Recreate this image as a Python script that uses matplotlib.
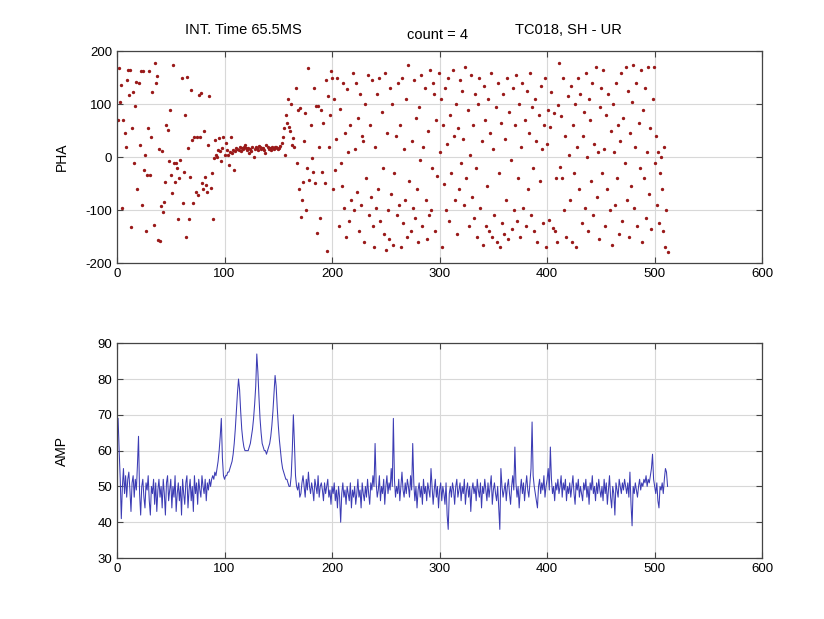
import numpy as np
import matplotlib
matplotlib.use("Agg")
import matplotlib.pyplot as plt

plt.rcParams['font.family'] = ['Liberation Sans', 'DejaVu Sans']
plt.rcParams['axes.unicode_minus'] = False

# phase of each sample (deg)
pha = [
    70, 168, 105, 137, -95, 71, 45, 20, 146, 164,
    118, 165, -131, 55, 124, -11, 96, 143, -60, 140,
    23, 162, -90, 162, -24, 4, -140, -33, 55, 162,
    -33, 39, 124, -128, 178, 140, 153, -156, 15, -159,
    -93, 11, -103, -84, -46, 61, 52, -8, 90, -33,
    -68, 175, -10, -46, -11, -20, -116, -40, -5, 149,
    -87, -27, 80, -150, 152, 17, -116, -37, 127, 33,
    -87, 39, -65, 39, -71, 118, 39, 121, -49, -60,
    49, -37, -52, -65, 23, 115, -58, -30, -116, -2,
    33, 4, 1, 14, 36, 11, -8, 17, 39, 5,
    26, 14, 4, -15, 10, 39, 8, 14, -24, 12,
    17, 15, 14, 20, 12, 17, 15, 20, 23, 17,
    14, 18, 8, 16, 12, 19, 1, 15, 20, 17,
    14, 22, 20, 15, 18, 17, 13, 8, 23, 19,
    16, 17, 14, 19, 17, 15, 20, 20, 18, 16,
    17, 21, 26, 39, 55, 4, 80, 64, 110, 58,
    49, 100, 23, 36, 20, 130, -11, 90, -60, 93,
    -112, -80, -46, 30, 83, -100, -20, 168, -43, 60,
    -2, -27, 130, -49, 96, -144, 96, 20, -115, 90,
    -27, 64, -49, 145, -178, 115, 20, 80, 162, 150,
    -60, 110, -25, 35, 150, -130, 92, -10, -55, 140,
    -95, 45, -150, 128, 10, -120, 60, -80, 160, -100,
    15, 140, -65, 75, -140, 120, -90, 40, 30, -160,
    100, -40, 155, -110, 60, -75, 145, -130, -170, 20,
    -95, 120, -60, 150, -120, 85, -20, -145, 160, -175,
    45, -100, -155, 130, -70, 100, -165, -30, 40, -110,
    140, -90, 60, -170, 150, -125, 15, -80, 110, -150,
    175, -45, -140, 30, -95, 145, -115, 75, -60, -160,
    95, -5, 155, -130, 20, 130, -80, -155, 50, -110,
    165, -100, -20, 140, 120, -140, 70, -35, 160, 10,
    110, -170, 60, -50, 130, -100, 25, 150, -120, 80,
    -30, 165, 40, -80, 100, -145, 55, -60, 145, -10,
    125, 35, -90, 170, -40, 90, -130, 5, 155, -75,
    60, -115, 120, -20, -150, 100, 150, -95, 30, -165,
    135, 70, -130, -55, 110, -140, 45, 160, -150, 15,
    -110, 95, -160, 140, -30, -170, 65, -125, 120, -145,
    35, -80, 150, -155, 85, -5, -135, 130, -100, 60,
    155, -120, -40, 100, -150, 20, 140, -95, 70, -130,
    125, -60, 45, 160, -110, 95, -20, -140, 110, 30,
    -160, 80, -45, 135, 15, -125, 60, 150, -170, 25,
    90, -118, 58, 124, -134, 83, -140, -40, -160, 99,
    178, -18, 77, -40, 150, -100, 40, -150, 115, 5,
    -80, 135, -160, 60, -30, 100, -170, 20, 150, -60,
    120, -125, 40, 85, -95, 160, 0, -140, 110, 70,
    -45, 140, -110, 25, 170, -75, 10, -155, 95, 130,
    -30, 165, 15, -130, 80, -60, 120, -100, 50, -165,
    100, 10, -90, 140, -40, 60, -145, 30, 160, -120,
    75, -10, 170, -80, 125, -150, 45, -55, 105, 175,
    -95, 20, 140, -130, 65, -20, 165, -160, 90, -40,
    130, -115, 10, 170, -70, 55, -135, 110, 170, -10,
    40, -90, 10, -125, -30, 0, -60, -140, 20, -170,
    -100, -180,
]

# amplitude of each sample
amp = [
    69, 60, 52, 41, 50, 55, 48, 53, 47, 52,
    54, 49, 43, 51, 53, 47, 52, 49, 56, 64,
    48, 42, 50, 52, 47, 44, 51, 49, 53, 46,
    42, 50, 48, 52, 45, 51, 43, 49, 52, 47,
    50, 44, 52, 48, 42, 51, 53, 46, 49, 52,
    44, 50, 47, 53, 43, 48, 51, 46, 50, 42,
    52, 48, 45, 51, 53, 44, 49, 52, 46, 50,
    43, 53, 48, 51, 45, 52, 49, 47, 53, 50,
    48, 52, 46, 51, 49, 52, 50, 52, 53, 52,
    54, 53, 55, 57, 60, 64, 69, 58, 53, 52,
    53, 53, 54, 54, 55, 56, 57, 59, 62, 66,
    71, 76, 80, 77, 71, 66, 63, 61, 60, 60,
    60, 60, 61, 62, 64, 66, 69, 73, 78, 87,
    82, 75, 69, 65, 62, 61, 60, 60, 59, 60,
    61, 62, 64, 67, 71, 76, 81, 78, 72, 67,
    63, 60, 57, 55, 54, 53, 52, 52, 51, 50,
    50, 53, 60, 70, 62, 53, 50, 49, 51, 47,
    48, 51, 53, 50, 47, 52, 49, 54, 50, 48,
    51, 49, 46, 52, 50, 48, 53, 47, 50, 51,
    49, 46, 51, 48, 50, 52, 47, 49, 45, 50,
    48, 51, 46, 49, 44, 50, 47, 40, 48, 51,
    47, 49, 45, 50, 48, 46, 51, 44, 49, 47,
    50, 45, 48, 52, 47, 49, 44, 51, 48, 46,
    50, 47, 52, 48, 45, 51, 49, 53, 50, 62,
    51, 47, 49, 53, 46, 50, 48, 52, 45, 50,
    53, 48, 51, 49, 55, 50, 69, 52, 47, 50,
    48, 52, 46, 50, 54, 49, 47, 51, 48, 52,
    50, 47, 53, 49, 62, 51, 46, 50, 44, 49,
    51, 47, 50, 45, 52, 48, 50, 46, 51, 49,
    47, 55, 50, 45, 49, 52, 47, 50, 44, 49,
    51, 46, 50, 48, 45, 51, 42, 38, 48, 50,
    47, 51, 49, 45, 50, 52, 47, 49, 51, 46,
    50, 48, 52, 45, 49, 51, 47, 50, 43, 49,
    51, 48, 50, 46, 52, 49, 47, 51, 44, 50,
    48, 52, 49, 46, 51, 47, 50, 53, 45, 49,
    51, 48, 46, 50, 44, 38, 55, 50, 47, 49,
    51, 46, 50, 52, 48, 45, 50, 53, 49, 61,
    51, 47, 50, 44, 49, 52, 48, 51, 46, 50,
    53, 49, 47, 51, 55, 68, 53, 50, 48, 46,
    44, 50, 52, 48, 51, 49, 53, 47, 50, 52,
    55, 49, 61, 52, 48, 50, 46, 51, 49, 52,
    48, 50, 53, 47, 51, 49, 52, 46, 50, 48,
    51, 47, 50, 53, 48, 45, 51, 49, 52, 47,
    50, 48, 46, 51, 49, 52, 47, 50, 45, 51,
    49, 53, 48, 50, 46, 51, 48, 52, 49, 47,
    50, 46, 52, 48, 51, 45, 49, 53, 47, 44,
    50, 48, 42, 51, 49, 47, 52, 50, 48, 51,
    49, 52, 50, 48, 51, 47, 54, 45, 39, 50,
    48, 51, 49, 47, 50, 52, 49, 51, 50, 52,
    51, 53, 50, 52, 51, 53, 55, 59, 52, 50,
    48, 51, 46, 44, 50, 49, 51, 48, 52, 55,
    54, 50,
]

n = np.arange(1, len(amp) + 1)

fig = plt.figure(figsize=(8.24, 6.19), dpi=100)
ax1 = fig.add_axes([0.142, 0.575, 0.783, 0.342])
ax2 = fig.add_axes([0.142, 0.0985, 0.783, 0.347])

ax1.plot(n, pha, '.', color='#9a1a1a', markersize=2.8)
ax1.set_xlim(0, 600)
ax1.set_ylim(-200, 200)
ax1.set_yticks([-200, -100, 0, 100, 200])
ax1.set_ylabel('PHA', fontsize=10)

ax2.plot(n, amp, color='#3c3cb4', linewidth=0.75)
ax2.set_xlim(0, 600)
ax2.set_ylim(30, 90)
ax2.set_yticks(range(30, 91, 10))
ax2.set_ylabel('AMP', fontsize=10)

for ax in (ax1, ax2):
    ax.set_xticks(range(0, 601, 100))
    ax.grid(True, color='#d8d8d8', linewidth=0.8)
    ax.set_axisbelow(True)
    ax.tick_params(direction='in', top=True, right=True, labelsize=9.5,
                   length=4, color='#444444')
    ax.yaxis.set_label_coords(-0.075, 0.5)
    for s in ax.spines.values():
        s.set_color('#444444')
        s.set_linewidth(0.9)

fig.text(243 / 824, 1 - 30 / 619, 'INT. Time 65.5MS', ha='center', va='center', fontsize=10.5)
fig.text(437 / 824, 1 - 35 / 619, 'count = 4', ha='center', va='center', fontsize=10.5)
fig.text(568 / 824, 1 - 30 / 619, 'TC018, SH - UR', ha='center', va='center', fontsize=10.5)

fig.savefig('out.png', dpi=100, facecolor='white')
